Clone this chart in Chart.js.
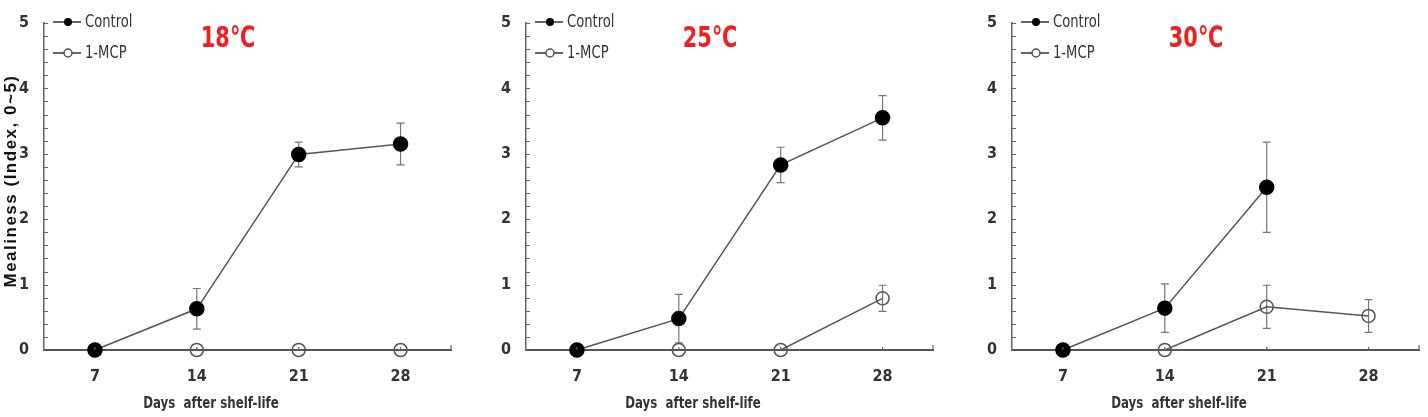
<!DOCTYPE html>
<html>
<head>
<meta charset="utf-8">
<script src="https://cdn.jsdelivr.net/npm/chart.js@4.4.1/dist/chart.umd.min.js"></script>
<style>
  body { margin: 0; background: #fff; width: 1428px; height: 417px; overflow: hidden; position: relative; }
  canvas { position: absolute; top: 0; }
</style>
</head>
<body>
<canvas id="c18" width="460" height="417" style="left:0"></canvas>
<canvas id="c25" width="460" height="417" style="left:482px"></canvas>
<canvas id="c30" width="460" height="417" style="left:968px"></canvas>
<script>
/* ========== Data ========== */
const days = ['7', '14', '21', '28'];
const seriesNames = ['Control', '1-MCP'];

const control18 = [0, 0.63, 2.99, 3.15];
const control18Err = [0, 0.31, 0.19, 0.32];
const mcp18 = [0, 0, 0, 0];
const mcp18Err = [0, 0, 0, 0];

const control25 = [0, 0.48, 2.83, 3.55];
const control25Err = [0, 0.37, 0.27, 0.34];
const mcp25 = [0, 0, 0, 0.79];
const mcp25Err = [0, 0, 0, 0.2];

const control30 = [0, 0.64, 2.49, null];
const control30Err = [0, 0.37, 0.69, null];
const mcp30 = [0, 0, 0.66, 0.52];
const mcp30Err = [0, 0, 0.33, 0.25];

const NARROW = "'Liberation Sans Narrow', 'DejaVu Sans Condensed', Arial, sans-serif";
const LINE = '#555';

// text squeezed sideways, the source figure uses a condensed face
function narrowText(ctx, text, x, y, sx) {
  ctx.save();
  ctx.translate(x, y);
  ctx.scale(sx, 1);
  ctx.fillText(text, 0, 0);
  ctx.restore();
}

/* ========== Decorations: error bars, inner ticks, legend, titles ========== */
const decor = {
  id: 'decor',
  beforeDatasetsDraw(chart) {
    const ctx = chart.ctx, y = chart.scales.y;
    ctx.save();
    ctx.strokeStyle = '#777';
    ctx.lineWidth = 1.2;
    chart.data.datasets.forEach((ds, i) => {
      const meta = chart.getDatasetMeta(i);
      ds.errors.forEach((e, j) => {
        if (!e || ds.data[j] == null) return;
        const x = meta.data[j].x;
        const top = y.getPixelForValue(ds.data[j] + e);
        const bot = y.getPixelForValue(ds.data[j] - e);
        ctx.beginPath();
        ctx.moveTo(x, top); ctx.lineTo(x, bot);
        ctx.moveTo(x - 4, top); ctx.lineTo(x + 4, top);
        ctx.moveTo(x - 4, bot); ctx.lineTo(x + 4, bot);
        ctx.stroke();
      });
    });
    ctx.restore();
  },
  afterDraw(chart, args, opts) {
    const ctx = chart.ctx, area = chart.chartArea;
    const x = chart.scales.x, y = chart.scales.y;
    ctx.save();

    // inner ticks on the y axis, every 0.2
    ctx.strokeStyle = '#666';
    ctx.lineWidth = 1.2;
    ctx.beginPath();
    for (let i = 1; i <= 25; i++) {
      const py = Math.round(y.getPixelForValue(i * 0.2)) + 0.5;
      ctx.moveTo(area.left, py);
      ctx.lineTo(area.left + 4, py);
    }
    // small ticks on the x axis at each day, plus the end
    days.forEach((d, i) => {
      const px = x.getPixelForValue(i);
      ctx.moveTo(px, area.bottom);
      ctx.lineTo(px, area.bottom - 3);
    });
    ctx.moveTo(area.right - 0.5, area.bottom);
    ctx.lineTo(area.right - 0.5, area.bottom - 5);
    ctx.stroke();

    // legend
    const rows = [22, 53];
    chart.data.datasets.forEach((ds, i) => {
      const ly = rows[i];
      ctx.strokeStyle = '#333';
      ctx.lineWidth = 1.5;
      ctx.beginPath();
      ctx.moveTo(area.left + 9, ly);
      ctx.lineTo(area.left + 37, ly);
      ctx.stroke();
      ctx.beginPath();
      ctx.arc(area.left + 24, ly, 4, 0, Math.PI * 2);
      if (i === 0) { ctx.fillStyle = '#000'; ctx.fill(); }
      else { ctx.fillStyle = '#fff'; ctx.fill(); ctx.strokeStyle = '#555'; ctx.stroke(); }
      ctx.fillStyle = '#333';
      ctx.font = '17px ' + NARROW;
      ctx.textAlign = 'left';
      ctx.textBaseline = 'middle';
      narrowText(ctx, ds.label, area.left + 41, ly + 1, 0.86);
    });

    // temperature label
    ctx.fillStyle = '#f41c1c';
    ctx.font = "bold 29px " + NARROW + ", 'Noto Sans CJK SC'";
    ctx.textAlign = 'center';
    ctx.textBaseline = 'middle';
    narrowText(ctx, opts.temp, area.left + 184, 39, 0.8);

    // x axis title
    ctx.fillStyle = '#333';
    ctx.font = 'bold 16px ' + NARROW;
    narrowText(ctx, 'Days  after shelf-life', area.left + 167, 404, 0.82);

    // y axis title (left panel only)
    if (opts.yTitle) {
      ctx.translate(11, 181);
      ctx.rotate(-Math.PI / 2);
      ctx.fillStyle = '#111';
      ctx.font = 'bold 17px Arial, sans-serif';
      ctx.letterSpacing = '1.5px';
      ctx.fillText('Mealiness (Index, 0~5)', 0, 0);
    }
    ctx.restore();
  }
};

/* ========== Panels ========== */
function makePanel(id, temp, control, controlErr, mcp, mcpErr, yTitle) {
  return new Chart(document.getElementById(id), {
    type: 'line',
    data: {
      labels: days,
      datasets: [{
        label: seriesNames[0],
        data: control,
        errors: controlErr,
        borderColor: LINE,
        borderWidth: 1.5,
        pointRadius: 7,
        pointBackgroundColor: '#000',
        pointBorderColor: '#000',
        clip: false
      }, {
        label: seriesNames[1],
        data: mcp,
        errors: mcpErr,
        borderColor: LINE,
        borderWidth: 1.5,
        pointRadius: 6.5,
        pointBorderWidth: 1.5,
        pointBackgroundColor: 'rgba(0,0,0,0)',
        pointBorderColor: '#555',
        clip: false
      }]
    },
    options: {
      responsive: false,
      animation: false,
      events: [],
      layout: { padding: { top: 8, right: 6, left: 0, bottom: 0 } },
      plugins: {
        legend: { display: false },
        tooltip: { enabled: false },
        decor: { temp, yTitle }
      },
      scales: {
        x: {
          type: 'category',
          offset: true,
          grid: { display: false, drawTicks: false },
          border: { display: true, color: '#555', width: 2 },
          ticks: { color: '#333', padding: 19, font: { family: NARROW, size: 16, weight: 'bold', lineHeight: 1 } },
          afterFit: axis => { axis.height = 67; }
        },
        y: {
          min: 0,
          max: 5,
          grid: { display: false, drawTicks: false },
          border: { display: true, color: '#666', width: 1.5 },
          ticks: { stepSize: 1, color: '#333', padding: 15, font: { family: NARROW, size: 16, weight: 'bold', lineHeight: 1 } },
          afterFit: axis => { axis.width = 44; }
        }
      }
    },
    plugins: [decor]
  });
}

makePanel('c18', '18℃', control18, control18Err, mcp18, mcp18Err, true);
makePanel('c25', '25℃', control25, control25Err, mcp25, mcp25Err, false);
makePanel('c30', '30℃', control30, control30Err, mcp30, mcp30Err, false);
</script>
</body>
</html>
